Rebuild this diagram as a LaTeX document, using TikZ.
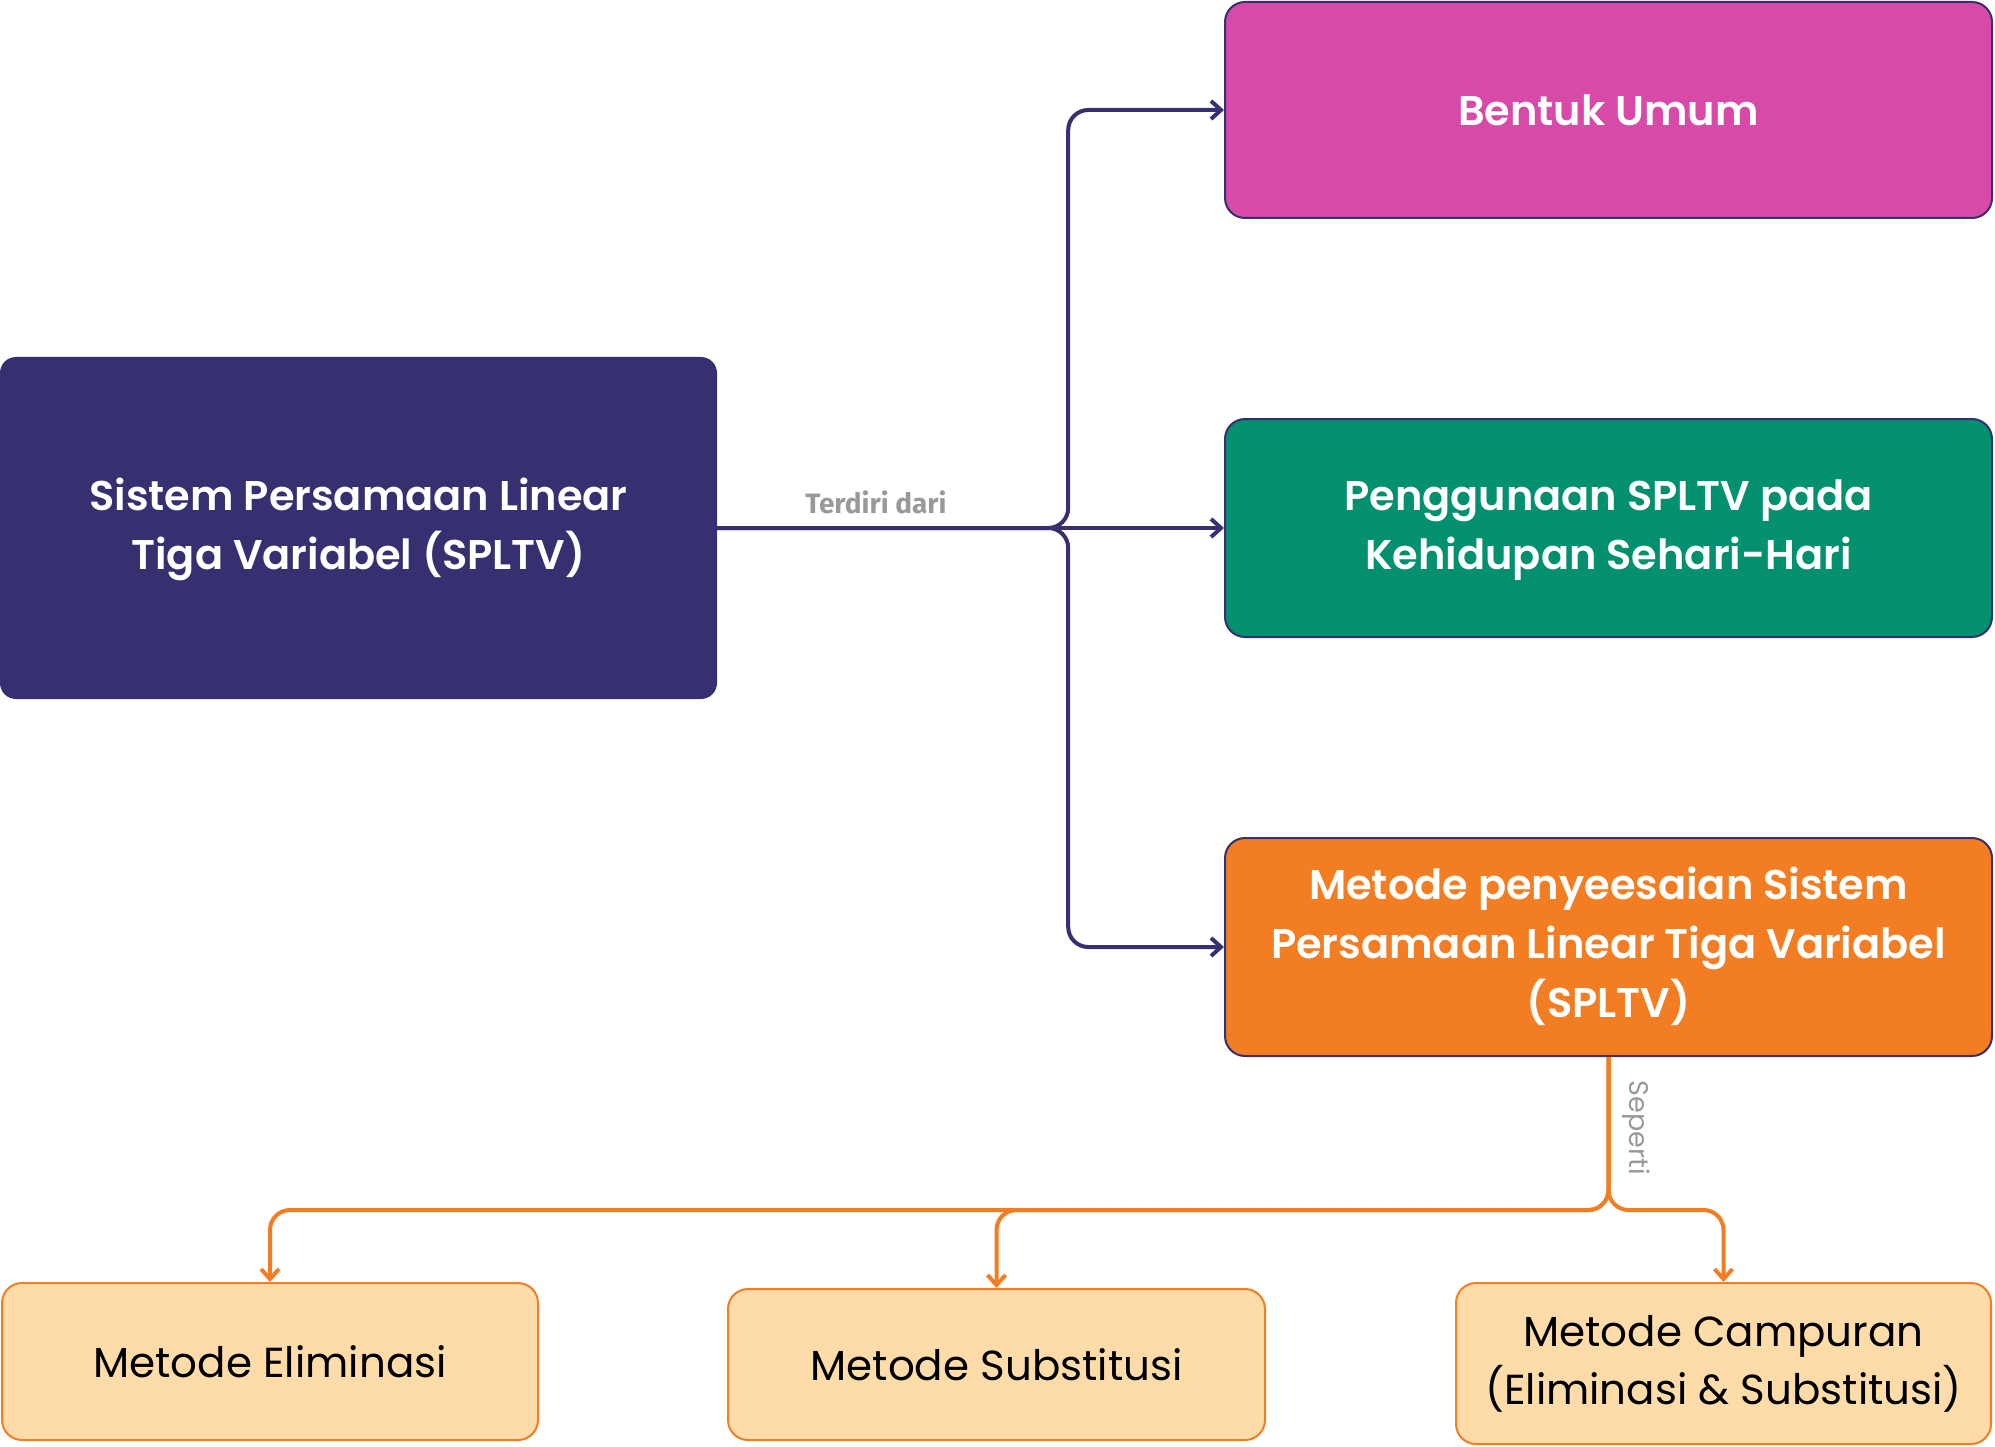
\documentclass[tikz,border=0pt]{standalone}
\usepackage{fontspec}
\setmainfont{Poppins}
\newfontfamily\popsemi{Poppins}[UprightFont={* SemiBold}]
\newfontfamily\labfont{Fira Sans}
\usetikzlibrary{arrows.meta}
\definecolor{navy}{HTML}{363070}
\definecolor{magenta}{HTML}{D84AA8}
\definecolor{teal}{HTML}{03906E}
\definecolor{orng}{HTML}{F27D23}
\definecolor{peach}{HTML}{FDDCA9}
\definecolor{labgray}{HTML}{999999}
\newcommand{\lowertext}[1]{\raisebox{-4pt}{\begin{tabular}{@{}c@{}}#1\end{tabular}}}
\tikzset{
  titlebox/.style={draw=navy, line width=2pt, rounded corners=20pt, inner sep=0pt,
    text=white, align=center, font=\popsemi\fontsize{41.5}{59}\selectfont},
  mainbox/.style={fill=navy, rounded corners=16pt, inner sep=0pt, text=white,
    align=center, font=\popsemi\fontsize{41.5}{59}\selectfont},
  methbox/.style={fill=peach, draw=orng, line width=2pt, rounded corners=20pt, inner sep=0pt,
    text=black, align=center, font=\fontsize{42}{58}\selectfont},
  navyline/.style={draw=navy, line width=4pt, rounded corners=20pt,
    -{Straight Barb[length=10pt,width=18pt]}},
  orngline/.style={draw=orng, line width=4pt, rounded corners=20pt,
    -{Straight Barb[length=10pt,width=18pt]}},
  lab/.style={text=labgray, inner sep=0pt}
}
\begin{document}
\begin{tikzpicture}[x=1pt,y=-1pt]
\useasboundingbox (0,0) rectangle (1995,1447);
\node[mainbox, minimum width=717pt, minimum height=342pt] (main) at (358.5,528) {\lowertext{Sistem Persamaan Linear\\Tiga Variabel (SPLTV)}};
\node[titlebox, fill=magenta, minimum width=767pt, minimum height=216pt] (bentuk) at (1608.5,110) {Bentuk Umum};
\node[titlebox, fill=teal, minimum width=767pt, minimum height=218pt] (peng) at (1608.5,528) {\lowertext{Penggunaan SPLTV pada\\Kehidupan Sehari-Hari}};
\node[titlebox, fill=orng, minimum width=767pt, minimum height=218pt] (metode) at (1608.5,947) {\lowertext{Metode penyeesaian Sistem\\Persamaan Linear Tiga Variabel\\(SPLTV)}};
\node[methbox, minimum width=536pt, minimum height=157pt] (elim) at (270,1361.5) {Metode Eliminasi};
\node[methbox, minimum width=537pt, minimum height=151pt] (subs) at (996.5,1364.5) {Metode Substitusi};
\node[methbox, minimum width=535pt, minimum height=161pt] (camp) at (1723.5,1363.5) {Metode Campuran\\(Eliminasi \& Substitusi)};
% navy connectors
\draw[navyline] (main.east) -- ++(351,0) |- (bentuk.west);
\draw[navyline] (main.east) -- (peng.west);
\draw[navyline] (main.east) -- ++(351,0) |- (metode.west);
% orange connectors
\draw[orngline] (metode.south) -- ++(0,153) -| (elim.north);
\draw[orngline] (metode.south) -- ++(0,153) -| (subs.north);
\draw[orngline] (metode.south) -- ++(0,153) -| (camp.north);
% labels
\node[lab, font=\labfont\bfseries\fontsize{28}{32}\selectfont, anchor=base] (terdiri) at (876,513) {Terdiri dari};
\node[lab, font=\fontsize{27}{30}\selectfont, rotate=-90] (seperti) at (1636,1128) {Seperti};
\end{tikzpicture}
\end{document}
